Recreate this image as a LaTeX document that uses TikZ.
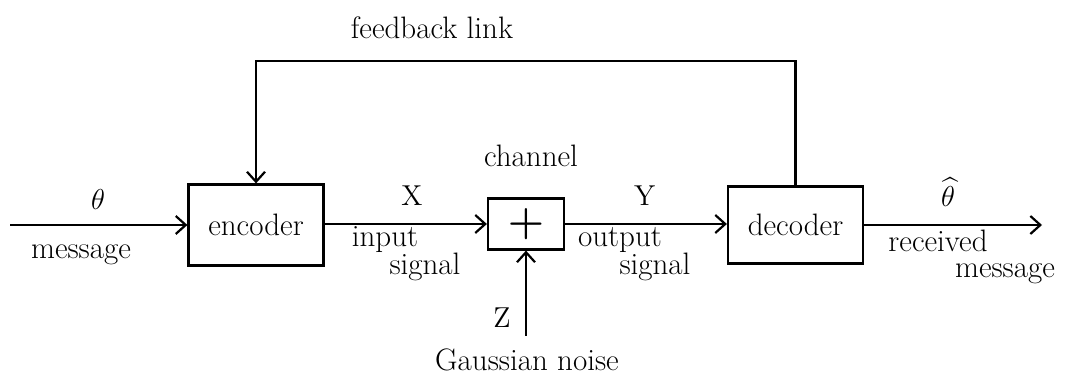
\documentclass[tikz,border=0pt]{standalone}
\usepackage{amsmath}
\usetikzlibrary{positioning,arrows.meta}
\begin{document}
\begin{tikzpicture}[x=0.5pt, y=-0.5pt, font=\fontsize{15.5}{18}\selectfont]
  \tikzset{
    blok/.style={draw, line width=1.1pt, minimum width=67.5pt, minimum height=40.5pt, inner sep=0pt},
    pijl/.style={line width=1.1pt, -{Straight Barb[length=5pt, width=9pt]}},
    lbl/.style={inner sep=0pt}
  }
  \useasboundingbox (0,0) rectangle (1066,378);

  % Blokken
  \node[blok] (enc) at (256,225) {encoder};
  \node[blok, minimum width=38pt, minimum height=25.5pt, font=\huge] (som) at (526,224) {$\boldsymbol{+}$};
  \node[blok, minimum height=38.5pt] (dec) at (795.5,225) {decoder};

  % Vrije eindpunten
  \coordinate (bron) at (10,225);
  \coordinate (put) at (1042,225);
  \coordinate (ruis) at (526,336);
  \coordinate (boven) at (795.5,61);

  % Verbindingen
  \draw[pijl] (bron) -- (enc);
  \draw[pijl] (enc.east |- som) -- (som);
  \draw[pijl] (som) -- (som -| dec.west);
  \draw[pijl] (dec) -- (put);
  \draw[pijl] (ruis) -- (som);
  \draw[pijl] (dec.north) -- (boven) -| (enc.north);

  % Labels
  \node[lbl] (fb) at (432,28) {feedback link};
  \node[lbl] (theta) at (98,200) {$\theta$};
  \node[lbl] (msg) at (81,255) {message};
  \node[lbl] (kanaal) at (531,156) {channel};
  \node[lbl] (xx) at (412,196) {$\mathrm{X}$};
  \node[lbl] (inp) at (385,240) {input};
  \node[lbl] (insig) at (425,267) {signal};
  \node[lbl] (yy) at (645,196) {$\mathrm{Y}$};
  \node[lbl] (outp) at (620,240) {output};
  \node[lbl] (outsig) at (655,267) {signal};
  \node[lbl] (zz) at (502,318) {$\mathrm{Z}$};
  \node[lbl] (gauss) at (527,360) {Gaussian noise};
  \node[lbl] (thetahat) at (948,192) {$\widehat{\theta}$};
  \node[lbl] (rec) at (938,241) {received};
  \node[lbl] (msg2) at (1005,274) {message};
\end{tikzpicture}
\end{document}
